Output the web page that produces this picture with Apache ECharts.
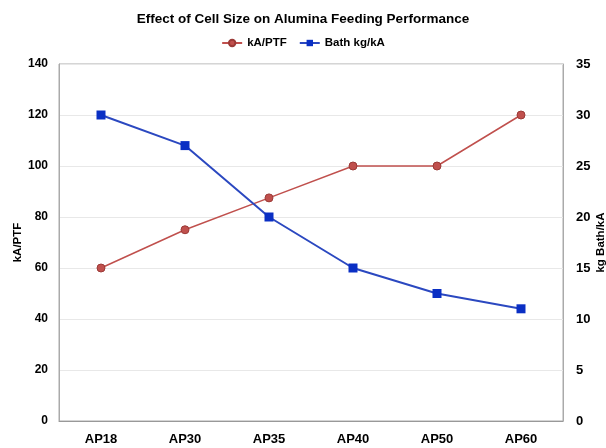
<!DOCTYPE html>
<html>
<head>
<meta charset="utf-8">
<script src="https://cdn.jsdelivr.net/npm/echarts@6/dist/echarts.min.js"></script>
<style>
  html, body { margin: 0; padding: 0; background: #fff; }
  #chart { width: 606px; height: 448px; }
</style>
</head>
<body>
<div id="chart"></div>
<script>
var categories = ['AP18', 'AP30', 'AP35', 'AP40', 'AP50', 'AP60'];
var kaPerPtf = [60, 75, 87.5, 100, 100, 120];
var bathKgPerKa = [30, 27, 20, 15, 12.5, 11];

var font = 'Liberation Sans, Arial, sans-serif';
var chart = echarts.init(document.getElementById('chart'));
var option = {
    animation: false,
    title: {
        text: 'Effect of Cell Size on Alumina Feeding Performance',
        left: 'center',
        top: 7,
        textStyle: { fontFamily: font, fontSize: 13.5, fontWeight: 'bold', color: '#000' }
    },
    legend: {
        top: 32,
        left: 'center',
        itemWidth: 20,
        itemHeight: 8,
        itemGap: 12,
        textStyle: { fontFamily: font, fontSize: 11.5, fontWeight: 'bold', color: '#000' },
        data: ['kA/PTF', 'Bath kg/kA']
    },
    grid: {
        left: 59, right: 43, top: 64, bottom: 27,
        outerBoundsMode: 'none',
        containLabel: false,
        show: true,
        borderColor: '#aaa',
        borderWidth: 1
    },
    xAxis: {
        type: 'category',
        data: categories,
        axisLine: { lineStyle: { color: '#999' } },
        axisTick: { show: false },
        axisLabel: { fontFamily: font, fontSize: 13, fontWeight: 'bold', color: '#000', margin: 12 }
    },
    yAxis: [{
        type: 'value',
        min: 0, max: 140, interval: 20,
        name: 'kA/PTF',
        nameLocation: 'middle',
        nameMoveOverlap: false,
        nameGap: 35,
        nameTextStyle: { fontFamily: font, fontSize: 11.5, fontWeight: 'bold', color: '#000' },
        axisLine: { show: true, lineStyle: { color: '#aaa' } },
        axisTick: { show: false },
        axisLabel: { fontFamily: font, fontSize: 12, fontWeight: 'bold', color: '#000', margin: 11 },
        splitLine: { lineStyle: { color: '#e8e8e8' } }
    }, {
        type: 'value',
        min: 0, max: 35, interval: 5,
        name: 'kg Bath/kA',
        nameLocation: 'middle',
        nameMoveOverlap: false,
        nameGap: 32,
        nameTextStyle: { fontFamily: font, fontSize: 11.5, fontWeight: 'bold', color: '#000' },
        axisLine: { show: true, lineStyle: { color: '#aaa' } },
        axisTick: { show: false },
        axisLabel: { fontFamily: font, fontSize: 13, fontWeight: 'bold', color: '#000', margin: 13 },
        splitLine: { show: false }
    }],
    series: [{
        name: 'kA/PTF',
        type: 'line',
        yAxisIndex: 0,
        data: kaPerPtf,
        symbol: 'circle',
        symbolSize: 8,
        lineStyle: { color: '#C0504D', width: 1.5 },
        itemStyle: { color: '#C0504D', borderColor: '#9b3a37', borderWidth: 1 }
    }, {
        name: 'Bath kg/kA',
        type: 'line',
        yAxisIndex: 1,
        data: bathKgPerKa,
        symbol: 'rect',
        symbolSize: 9,
        lineStyle: { color: '#2b48c0', width: 2 },
        itemStyle: { color: '#0a2fc4' }
    }]
};
chart.setOption(option);
</script>
</body>
</html>
